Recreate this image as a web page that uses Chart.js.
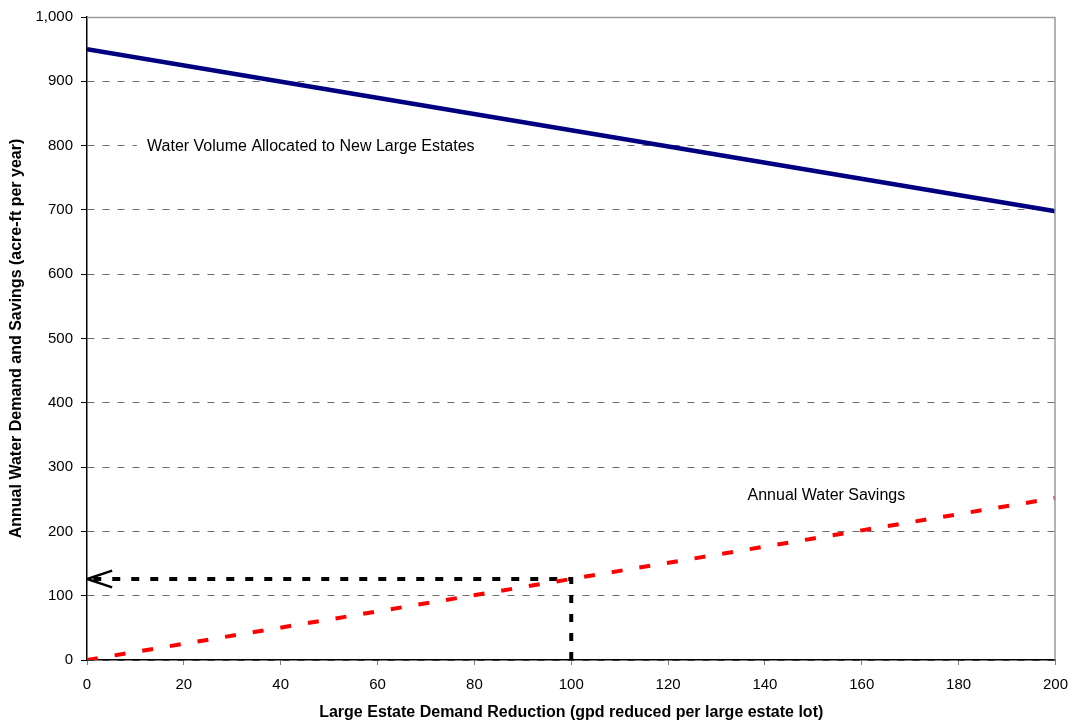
<!DOCTYPE html>
<html>
<head>
<meta charset="utf-8">
<script src="https://cdn.jsdelivr.net/npm/chart.js@4.4.1/dist/chart.umd.min.js"></script>
<style>
  html, body { margin: 0; padding: 0; background: #fff; }
  canvas { display: block; }
</style>
</head>
<body>
<canvas id="c" width="1079" height="722"></canvas>
<script>
// Demand reduction per large estate lot (gpd)
const reduction = [0, 50, 100, 150, 200];
// Water volume allocated to new large estates (acre-ft per year)
const allocated = [950, 887, 824, 761, 698];
// Annual water savings (acre-ft per year)
const savings = [0, 63, 126, 189, 252];
// Guide from the 100 gpd reduction across to its savings value
const guideX = [100, 100, 0];
const guideY = [0, 126, 126];
// Arrow head at the y axis
const arrowX = [5.2, 0, 5.2];
const arrowY = [139, 126, 113];
// Y axis tick values
const yTicks = [0, 100, 200, 300, 400, 500, 600, 700, 800, 900, 1000];
// Series labels
const labels = [
  { text: 'Water Volume Allocated to New Large Estates', x: 12.4, y: 800, boxFrom: 10.3, boxTo: 86.6 },
  { text: 'Annual Water Savings', x: 136.4, y: 258, boxFrom: 134.5, boxTo: 171 }
];

const pts = (xs, ys) => xs.map((x, i) => ({ x: x, y: ys[i] }));
const FONT = '"Liberation Sans", Arial, sans-serif';

const framePlugin = {
  id: 'frame',
  afterDatasetsDraw(chart) {
    const { ctx, chartArea: a } = chart;
    ctx.save();
    ctx.strokeStyle = '#9a9a9a';
    ctx.lineWidth = 1.5;
    ctx.beginPath();
    ctx.moveTo(a.left, a.top + 0.5);
    ctx.lineTo(a.right - 0.5, a.top + 0.5);
    ctx.lineTo(a.right - 0.5, a.bottom);
    ctx.stroke();
    ctx.restore();
  },
  beforeDatasetsDraw(chart) {
    const { ctx, scales: { x, y } } = chart;
    ctx.save();
    ctx.font = '16px ' + FONT;
    ctx.textBaseline = 'middle';
    labels.forEach(l => {
      const py = y.getPixelForValue(l.y);
      const bx0 = x.getPixelForValue(l.boxFrom);
      const bx1 = x.getPixelForValue(l.boxTo);
      ctx.fillStyle = '#ffffff';
      ctx.fillRect(bx0, py - 10, bx1 - bx0, 20);
      ctx.fillStyle = '#000000';
      ctx.fillText(l.text, x.getPixelForValue(l.x), py + 1);
    });
    ctx.restore();
  }
};

new Chart(document.getElementById('c'), {
  type: 'scatter',
  data: {
    datasets: [
      {
        data: pts(reduction, allocated), showLine: true, borderColor: '#000080',
        borderWidth: 4.5, pointRadius: 0, order: 1
      },
      {
        data: pts(reduction, savings), showLine: true, borderColor: '#ff0000',
        borderWidth: 4, borderDash: [11, 17], pointRadius: 0, order: 2, borderCapStyle: 'butt'
      },
      {
        data: pts(guideX, guideY), showLine: true, borderColor: '#000000',
        borderWidth: 4, borderDash: [8, 11], pointRadius: 0, order: 3, borderCapStyle: 'butt'
      },
      {
        data: pts(arrowX, arrowY), showLine: true, borderColor: '#000000',
        borderWidth: 2.5, pointRadius: 0, order: 4
      }
    ]
  },
  options: {
    responsive: false,
    devicePixelRatio: 1,
    animation: false,
    layout: { padding: { top: 16, right: 20, bottom: 0, left: 0 } },
    plugins: { legend: { display: false }, tooltip: { enabled: false } },
    scales: {
      x: {
        type: 'linear', min: 0, max: 200,
        afterFit(axis) { axis.height = 62; },
        ticks: { stepSize: 20, color: '#000', font: { family: FONT, size: 15 }, padding: 11, maxRotation: 0 },
        grid: { drawOnChartArea: false, drawTicks: true, tickLength: 5, tickColor: '#808080', tickWidth: 1 },
        border: { color: '#000', width: 1.5 },
        title: {
          display: true, text: 'Large Estate Demand Reduction (gpd reduced per large estate lot)',
          color: '#000', font: { family: FONT, size: 16, weight: 'bold' }, padding: { top: 1, bottom: 0 }
        }
      },
      y: {
        type: 'linear', min: 0, max: 1000,
        afterFit(axis) { axis.width = 87; },
        afterBuildTicks(axis) { axis.ticks = yTicks.map(v => ({ value: v })); },
        ticks: { color: '#000', font: { family: FONT, size: 15 }, padding: 8 },
        grid: { color: '#6e6e6e', lineWidth: 1, tickLength: 6, tickColor: '#000', tickWidth: 1 },
        border: { color: '#000', width: 1.5, dash: [7, 8] },
        title: {
          display: true, text: 'Annual Water Demand and Savings (acre-ft per year)',
          color: '#000', font: { family: FONT, size: 16, weight: 'bold' }, padding: { top: 7, bottom: 4 }
        }
      }
    }
  },
  plugins: [framePlugin]
});
</script>
</body>
</html>
